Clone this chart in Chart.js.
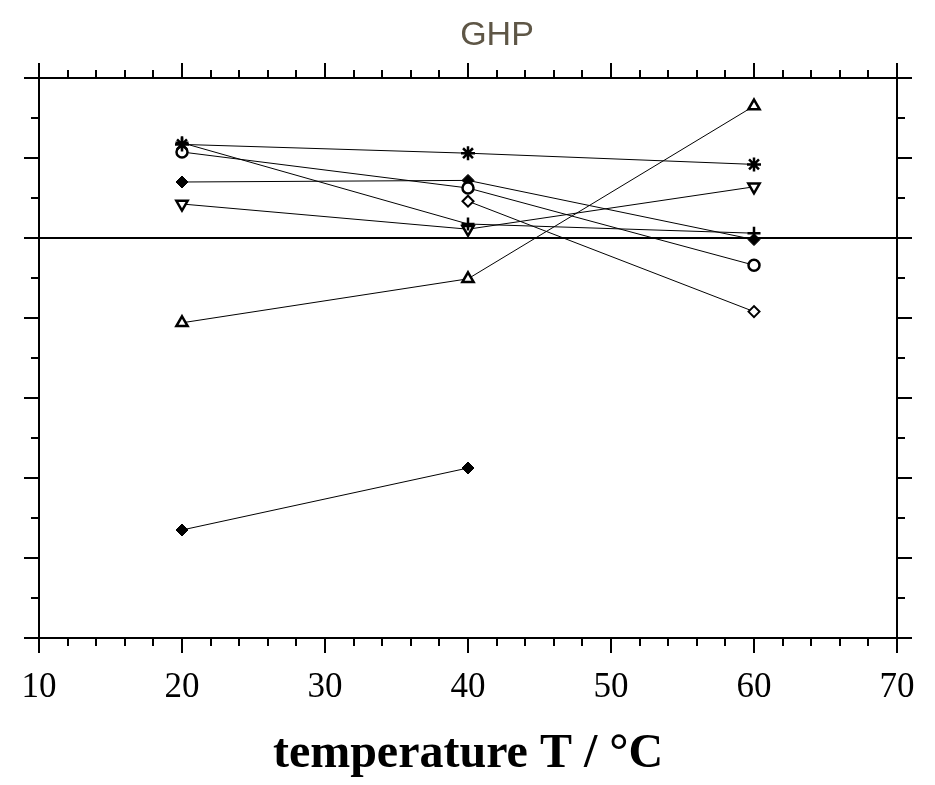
<!DOCTYPE html>
<html>
<head>
<meta charset="utf-8">
<script src="https://cdn.jsdelivr.net/npm/chart.js@4/dist/chart.umd.min.js"></script>
<style>
  html, body { margin: 0; padding: 0; background: #ffffff; }
  #wrap { width: 935px; height: 785px; position: relative; }
</style>
</head>
<body>
<div id="wrap"><canvas id="c" width="935" height="785"></canvas></div>
<script>
// ---- data ----
const temperatures = [20, 40, 60];
const seriesPlus      = [11.9, 1.75, 0.6];
const seriesStar      = [11.7, 10.6, 9.2];
const seriesCircle    = [10.75, 6.25, -3.4];
const seriesDiamondA  = [7.0, 7.2, -0.2];
const seriesDiamondOpen = [null, 4.6, -9.2];
const seriesTriDown   = [4.25, 1.1, 6.4];
const seriesTriUp     = [-10.6, -5.1, 16.5];
const seriesDiamondB  = [-36.5, -28.75, null];
const xTickLabels = [10, 20, 30, 40, 50, 60, 70];
const referenceY = 0;
const titleText = 'GHP';
const xTitle = 'temperature T / °C';

function pts(vals) {
  const out = [];
  vals.forEach((v, i) => { if (v !== null) out.push({ x: temperatures[i], y: v }); });
  return out;
}

function ds(vals, style, radius, fill, rot, bw) {
  return {
    data: pts(vals),
    showLine: true,
    borderColor: '#000',
    borderWidth: 1,
    pointStyle: style,
    pointRadius: radius,
    pointHoverRadius: radius,
    pointBackgroundColor: fill,
    pointBorderColor: '#000',
    pointBorderWidth: bw,
    pointRotation: rot || 0
  };
}

const datasets = [
  ds(seriesPlus, 'cross', 6.5, '#000', 0, 2.5),
  ds(seriesStar, 'star', 7, '#000', 0, 2.5),
  ds(seriesCircle, 'circle', 5.5, '#fff', 0, 2.5),
  ds(seriesDiamondA, 'rectRot', 6, '#000', 0, 1),
  ds(seriesDiamondOpen, 'rectRot', 5.5, '#fff', 0, 2),
  ds(seriesTriDown, 'triangle', 6.5, '#fff', 180, 2.5),
  ds(seriesTriUp, 'triangle', 6.5, '#fff', 0, 2.5),
  ds(seriesDiamondB, 'rectRot', 6, '#000', 0, 1)
];

const framePlugin = {
  id: 'frame',
  beforeDatasetsDraw(chart) {
    const { ctx, chartArea: a, scales: { x, y } } = chart;
    ctx.save();
    ctx.strokeStyle = '#000';
    ctx.lineWidth = 2;
    ctx.lineCap = 'butt';
    const yr = Math.round(y.getPixelForValue(referenceY));
    ctx.beginPath(); ctx.moveTo(a.left, yr); ctx.lineTo(a.right, yr); ctx.stroke();
    ctx.restore();
  },
  afterDatasetsDraw(chart) {
    const { ctx, chartArea: a, scales: { x, y } } = chart;
    ctx.save();
    ctx.strokeStyle = '#000';
    ctx.lineWidth = 2;
    const major = 15, minor = 8;
    const L = Math.round(a.left), R = Math.round(a.right), T = Math.round(a.top), B = Math.round(a.bottom);
    ctx.beginPath();
    ctx.moveTo(L - major, T); ctx.lineTo(R + major, T);
    ctx.moveTo(L - major, B); ctx.lineTo(R + major, B);
    ctx.moveTo(L, T - major); ctx.lineTo(L, B + major);
    ctx.moveTo(R, T - major); ctx.lineTo(R, B + major);
    ctx.stroke();
    ctx.beginPath();
    for (let v = x.min; v <= x.max + 1e-9; v += 2) {
      const px = Math.round(x.getPixelForValue(v));
      const len = (Math.round(v) % 10 === 0) ? major : minor;
      ctx.moveTo(px, T); ctx.lineTo(px, T - len);
      ctx.moveTo(px, B); ctx.lineTo(px, B + len);
    }
    for (let v = y.min; v <= y.max + 1e-9; v += 5) {
      const py = Math.round(y.getPixelForValue(v));
      const len = (Math.round(v) % 10 === 0) ? major : minor;
      ctx.moveTo(L, py); ctx.lineTo(L - len, py);
      ctx.moveTo(R, py); ctx.lineTo(R + len, py);
    }
    ctx.stroke();
    // chart title
    ctx.fillStyle = '#5e5646';
    ctx.font = '34px "Liberation Sans", Arial, sans-serif';
    ctx.textAlign = 'center';
    ctx.textBaseline = 'middle';
    ctx.fillText(titleText, 497, 36);
    ctx.restore();
  }
};

new Chart(document.getElementById('c'), {
  type: 'scatter',
  data: { datasets },
  plugins: [framePlugin],
  options: {
    responsive: false,
    animation: false,
    events: [],
    layout: { padding: { left: 39, right: 38, top: 78, bottom: 0 } },
    plugins: {
      legend: { display: false },
      tooltip: { enabled: false },
      title: { display: false }
    },
    scales: {
      x: {
        type: 'linear',
        min: 10, max: 70,
        afterBuildTicks: (s) => { s.ticks = xTickLabels.map(v => ({ value: v })); },
        afterFit: (s) => { s.height = 147; s.paddingLeft = 0; s.paddingRight = 0; },
        grid: { display: false, drawTicks: false },
        border: { display: false },
        ticks: {
          color: '#000',
          padding: 29,
          maxRotation: 0,
          autoSkip: false,
          font: { family: '"Liberation Serif", "Times New Roman", serif', size: 35 }
        },
        title: {
          display: true,
          text: xTitle,
          color: '#000',
          font: { family: '"Liberation Serif", "Times New Roman", serif', size: 48, weight: 'bold' },
          padding: { top: 10, bottom: 2 }
        }
      },
      y: {
        type: 'linear',
        min: -50, max: 20,
        display: false
      }
    }
  }
});
</script>
</body>
</html>
